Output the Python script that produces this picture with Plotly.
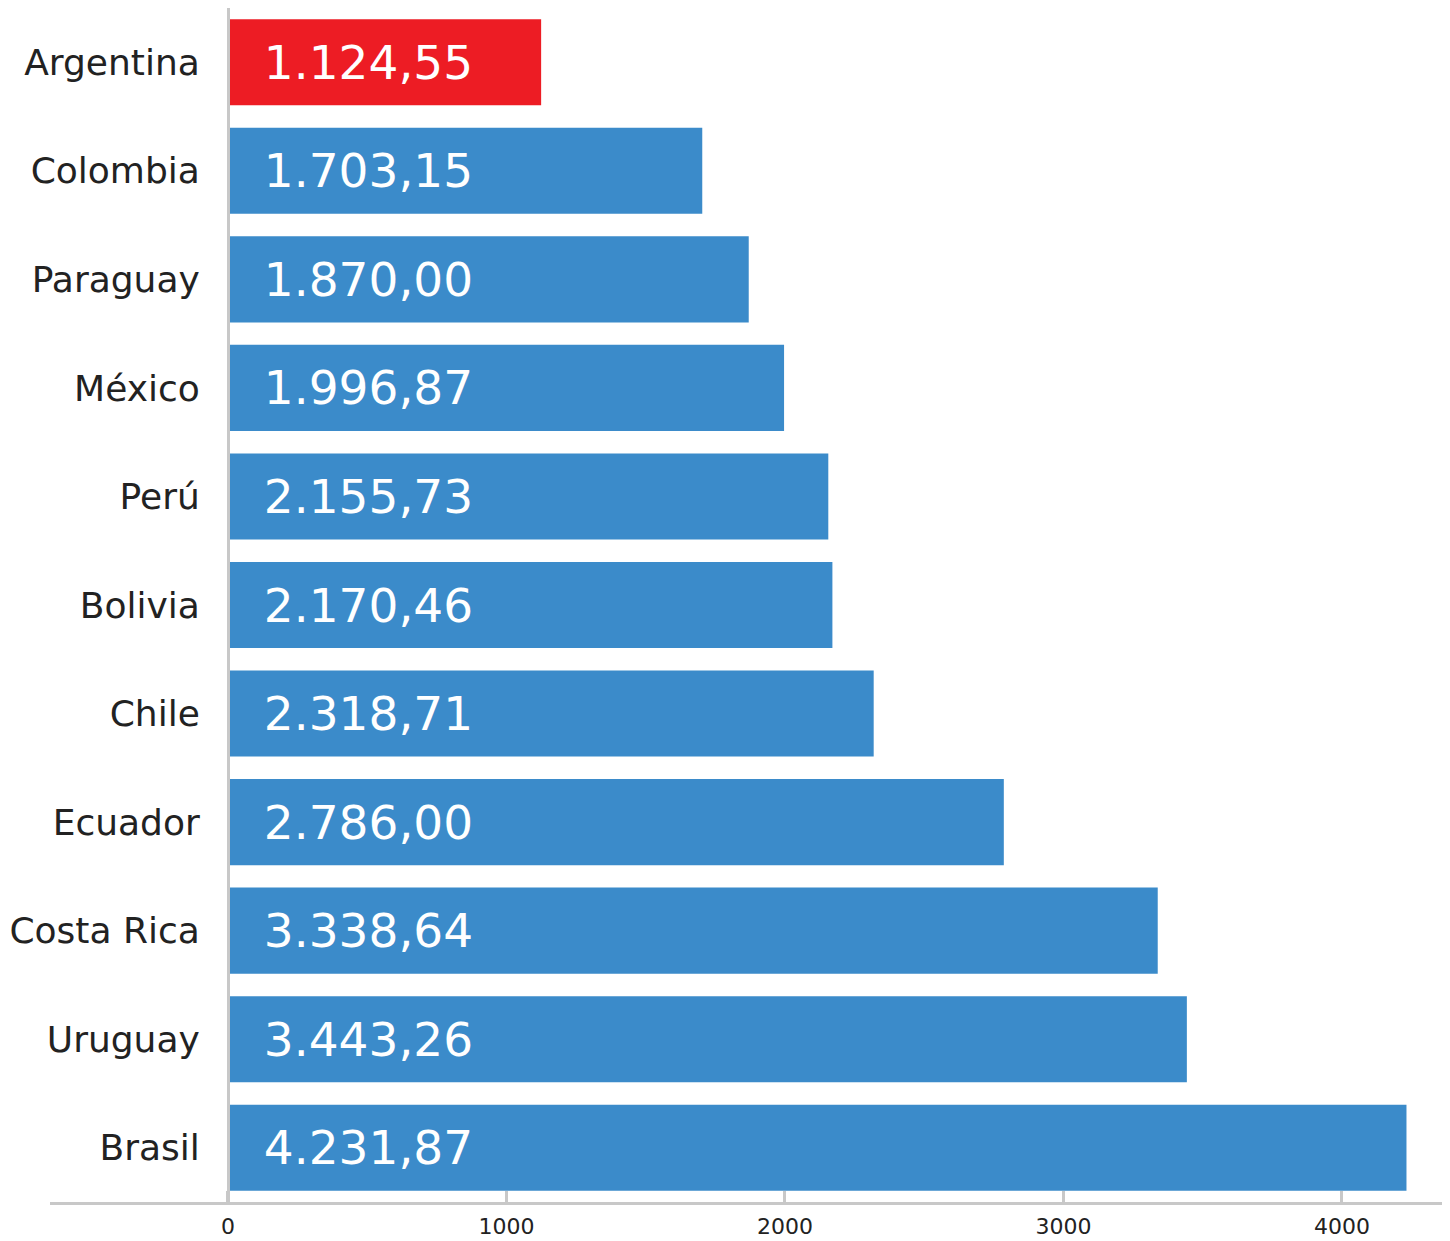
import plotly.graph_objects as go

countries = ["Argentina", "Colombia", "Paraguay", "México", "Perú", "Bolivia",
             "Chile", "Ecuador", "Costa Rica", "Uruguay", "Brasil"]
values = [1124.55, 1703.15, 1870.00, 1996.87, 2155.73, 2170.46,
          2318.71, 2786.00, 3338.64, 3443.26, 4231.87]
x_ticks = [0, 1000, 2000, 3000, 4000]

RED = "#ed1c24"
BLUE = "#3b8bca"
colors = [RED if c == "Argentina" else BLUE for c in countries]


def fmt_es(v):
    s = f"{v:,.2f}"
    return s.replace(",", "X").replace(".", ",").replace("X", ".")


labels = ["\u2002\u2009" + fmt_es(v) for v in values]

FONT = "DejaVu Sans"

fig = go.Figure(
    go.Bar(
        x=values,
        y=countries,
        orientation="h",
        marker=dict(color=colors, line=dict(width=0)),
        text=labels,
        textposition="inside",
        insidetextanchor="start",
        textfont=dict(family=FONT, size=47, color="white"),
        constraintext="none",
        hoverinfo="skip",
    )
)

# page body has an 8px margin, so the figure is sized/offset to compensate
fig.update_layout(
    width=1442,
    height=1233,
    margin=dict(l=42, r=7, t=0, b=39, autoexpand=False),
    paper_bgcolor="white",
    plot_bgcolor="white",
    bargap=0.207,
    showlegend=False,
    xaxis=dict(
        range=[-639, 4363],
        tickvals=x_ticks,
        ticktext=[str(t) for t in x_ticks],
        showgrid=False,
        zeroline=False,
        showline=True,
        linecolor="#c8c8c8",
        linewidth=3,
        ticks="inside",
        ticklen=11,
        tickwidth=3,
        tickcolor="#c8c8c8",
        ticklabelstandoff=3,
        automargin=False,
        tickfont=dict(family=FONT, size=22, color="#222222"),
    ),
    yaxis=dict(
        categoryorder="array",
        categoryarray=countries,
        range=[10.5, -0.5],
        anchor="free",
        position=178 / 1393,
        showgrid=False,
        zeroline=False,
        showline=True,
        linecolor="#c8c8c8",
        linewidth=3,
        ticks="",
        ticklabelstandoff=20,
        automargin=False,
        tickfont=dict(family=FONT, size=36, color="#222222"),
    ),
)

fig.write_html("out.html")
